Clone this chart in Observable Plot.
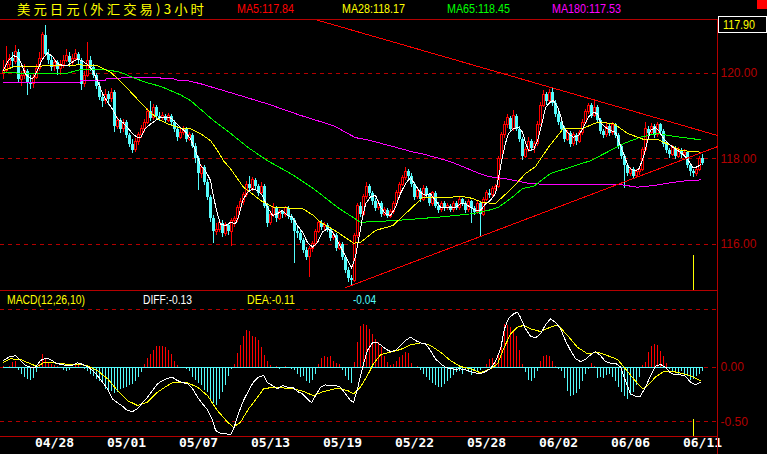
<!DOCTYPE html>
<html><head><meta charset="utf-8">
<script src="https://cdn.jsdelivr.net/npm/d3@7"></script>
<script src="https://cdn.jsdelivr.net/npm/@observablehq/plot@0.6"></script>
<style>
html,body{margin:0;padding:0;background:#000;}
#chart{position:relative;width:767px;height:454px;background:#000;overflow:hidden;}
#chart svg{position:absolute;left:0;shape-rendering:crispEdges;}
.lbl{position:absolute;white-space:nowrap;font-family:"Liberation Sans",Arial,sans-serif;font-size:13px;line-height:13px;transform-origin:0 50%;}
</style></head><body><div id="chart"></div>
<script>
// ---------- data ----------
const opens = [
119.98,120.05,120.20,120.35,120.28,120.50,119.85,119.95,120.05,119.80,
119.75,119.90,120.10,120.35,120.90,120.45,120.30,120.15,120.25,120.10,
120.20,120.30,120.40,120.25,120.35,120.45,120.30,119.75,119.95,120.30,
120.15,119.95,119.70,119.45,119.35,119.50,119.40,119.55,118.75,118.90,
118.70,118.85,118.55,118.35,118.20,118.40,118.55,118.70,118.85,119.10,
118.95,119.20,119.00,118.95,119.00,118.90,119.00,118.85,118.70,118.50,
118.60,118.70,118.45,118.55,118.30,118.00,117.65,117.80,117.45,117.10,
116.60,116.30,116.35,116.50,116.25,116.45,116.30,116.55,116.60,116.85,
117.00,117.15,117.40,117.30,117.50,117.35,117.20,117.35,116.90,116.50,
116.70,116.85,116.60,116.75,116.70,116.85,116.65,116.55,116.30,116.25,
116.10,115.85,115.70,115.90,116.00,116.30,116.50,116.40,116.45,116.35,
116.15,116.20,115.90,116.00,115.70,115.40,115.20,115.15,116.20,116.90,
116.70,117.10,117.35,117.20,117.00,116.85,116.95,116.70,116.80,116.65,
116.75,116.95,117.20,117.40,117.55,117.70,117.60,117.40,117.10,117.25,
117.05,117.30,117.15,116.95,117.20,116.90,116.80,116.95,116.85,116.90,
116.80,116.95,116.85,117.05,116.95,116.80,117.00,116.85,116.75,116.95,
116.70,117.05,117.20,117.15,117.30,117.35,118.00,118.55,118.80,118.95,
118.70,119.00,118.70,118.45,118.05,118.20,118.40,118.25,118.35,118.80,
119.25,119.50,119.35,119.55,119.30,119.05,118.85,118.70,118.45,118.60,
118.35,118.55,118.40,118.60,118.85,119.10,119.25,119.00,119.20,118.90,
118.65,118.55,118.75,118.60,118.80,118.55,118.30,118.05,117.85,117.65,
117.75,117.60,117.70,117.75,118.20,118.70,118.60,118.75,118.55,118.80,
118.65,118.35,118.20,118.10,118.25,118.05,118.20,118.10,118.15,117.85,
117.70,117.65,117.75,118.00];
const highs = [
120.30,120.62,120.45,120.50,120.65,120.55,120.05,120.20,120.10,119.95,
120.00,120.20,120.50,120.97,121.12,120.55,120.40,120.35,120.30,120.30,
120.42,120.55,120.48,120.45,120.55,120.50,120.35,120.05,120.73,120.40,
120.22,120.00,119.78,119.55,119.62,119.58,119.65,119.60,118.97,118.95,
118.92,118.90,118.60,118.45,118.48,118.62,118.78,118.92,119.18,119.34,
119.28,119.25,119.08,119.08,119.05,119.06,119.04,118.90,118.75,118.68,
118.76,118.74,118.62,118.60,118.36,118.05,117.85,117.85,117.52,117.15,
116.68,116.48,116.58,116.56,116.52,116.50,116.60,116.66,116.92,117.08,
117.22,117.48,117.60,117.56,117.55,117.40,117.45,117.40,116.96,116.78,
116.96,116.90,116.82,116.80,116.90,116.88,116.70,116.60,116.40,116.32,
116.15,115.92,115.96,116.08,116.36,116.56,116.55,116.52,116.50,116.40,
116.28,116.25,116.06,116.04,115.75,115.46,115.28,116.25,116.96,116.98,
117.18,117.45,117.40,117.25,117.08,117.02,117.00,116.86,116.84,116.82,
117.00,117.26,117.46,117.62,117.80,117.76,117.65,117.45,117.32,117.30,
117.38,117.35,117.20,117.25,117.24,116.98,117.00,117.00,116.96,116.94,
117.00,117.00,117.10,117.08,117.00,117.06,117.04,116.90,117.00,117.00,
117.10,117.26,117.28,117.36,117.40,118.05,118.62,118.88,119.05,119.00,
119.13,119.05,118.75,118.50,118.28,118.50,118.45,118.42,118.88,119.32,
119.60,119.56,119.62,119.65,119.36,119.10,118.90,118.75,118.66,118.64,
118.62,118.60,118.66,118.92,119.16,119.30,119.30,119.39,119.25,118.95,
118.70,118.82,118.80,118.86,118.84,118.60,118.35,118.10,117.90,117.80,
117.80,117.76,117.82,118.26,118.85,118.75,118.82,118.80,118.85,118.84,
118.70,118.40,118.25,118.32,118.30,118.26,118.24,118.22,118.18,117.90,
117.76,117.82,118.06,118.10];
const lows = [
119.85,120.00,120.10,120.15,120.22,119.80,119.70,119.85,119.49,119.62,
119.65,119.85,120.05,120.30,120.40,120.20,120.05,120.05,119.95,119.95,
120.12,120.25,120.15,120.18,120.28,120.20,119.60,119.68,119.90,120.05,
119.88,119.62,119.38,119.20,119.28,119.25,119.32,118.62,118.68,118.60,
118.62,118.48,118.28,118.12,118.15,118.32,118.48,118.62,118.80,118.88,
118.90,118.92,118.88,118.90,118.85,118.85,118.78,118.62,118.42,118.45,
118.55,118.38,118.40,118.25,117.90,117.26,117.55,117.38,117.02,116.52,
116.02,116.20,116.28,116.16,116.18,116.22,115.96,116.40,116.52,116.80,
116.92,117.10,117.22,117.25,117.28,117.12,117.15,116.85,116.40,116.44,
116.62,116.52,116.55,116.60,116.64,116.58,116.48,115.56,116.15,116.02,
115.78,115.62,115.23,115.82,115.95,116.25,116.32,116.30,116.28,116.08,
116.10,115.84,115.85,115.62,115.32,115.12,115.04,115.10,116.15,116.62,
116.65,117.05,117.12,116.92,116.78,116.80,116.64,116.66,116.60,116.60,
116.70,116.90,117.15,117.35,117.50,117.52,117.34,117.02,117.05,116.98,
117.00,117.08,116.88,116.90,116.85,116.72,116.75,116.78,116.80,116.74,
116.76,116.80,116.80,116.88,116.72,116.76,116.48,116.68,116.70,116.17,
116.65,117.00,117.08,117.10,117.20,117.30,117.95,118.48,118.72,118.62,
118.65,118.65,118.38,117.96,118.00,118.15,118.18,118.14,118.30,118.75,
119.20,119.25,119.30,119.22,118.98,118.78,118.62,118.38,118.40,118.28,
118.30,118.32,118.36,118.55,118.80,119.05,118.95,118.96,118.85,118.58,
118.48,118.50,118.52,118.55,118.48,118.22,117.98,117.30,117.58,117.60,
117.55,117.55,117.62,117.70,118.15,118.52,118.55,118.48,118.50,118.58,
118.28,118.12,118.02,118.05,117.98,118.00,118.02,118.04,117.78,117.60,
117.56,117.60,117.70,117.84];
const closes = [
120.05,120.20,120.35,120.28,120.50,119.85,119.95,120.05,119.80,119.75,
119.90,120.10,120.35,120.90,120.45,120.30,120.15,120.25,120.10,120.20,
120.30,120.40,120.25,120.35,120.45,120.30,119.75,119.95,120.30,120.15,
119.95,119.70,119.45,119.35,119.50,119.40,119.55,118.75,118.90,118.70,
118.85,118.55,118.35,118.20,118.40,118.55,118.70,118.85,119.10,118.95,
119.20,119.00,118.95,119.00,118.90,119.00,118.85,118.70,118.50,118.60,
118.70,118.45,118.55,118.30,118.00,117.65,117.80,117.45,117.10,116.60,
116.30,116.35,116.50,116.25,116.45,116.30,116.55,116.60,116.85,117.00,
117.15,117.40,117.30,117.50,117.35,117.20,117.35,116.90,116.50,116.70,
116.85,116.60,116.75,116.70,116.85,116.65,116.55,116.30,116.25,116.10,
115.85,115.70,115.90,116.00,116.30,116.50,116.40,116.45,116.35,116.15,
116.20,115.90,116.00,115.70,115.40,115.20,115.15,116.20,116.90,116.70,
117.10,117.35,117.20,117.00,116.85,116.95,116.70,116.80,116.65,116.75,
116.95,117.20,117.40,117.55,117.70,117.60,117.40,117.10,117.25,117.05,
117.30,117.15,116.95,117.20,116.90,116.80,116.95,116.85,116.90,116.80,
116.95,116.85,117.05,116.95,116.80,117.00,116.85,116.75,116.95,116.70,
117.05,117.20,117.15,117.30,117.35,118.00,118.55,118.80,118.95,118.70,
119.00,118.70,118.45,118.05,118.20,118.40,118.25,118.35,118.80,119.25,
119.50,119.35,119.55,119.30,119.05,118.85,118.70,118.45,118.60,118.35,
118.55,118.40,118.60,118.85,119.10,119.25,119.00,119.20,118.90,118.65,
118.55,118.75,118.60,118.80,118.55,118.30,118.05,117.85,117.65,117.75,
117.60,117.70,117.75,118.20,118.70,118.60,118.75,118.55,118.80,118.65,
118.35,118.20,118.10,118.25,118.05,118.20,118.10,118.15,117.85,117.70,
117.65,117.75,118.00,117.90];
const hist = [
0.01,-0.01,0.01,0.05,0.06,-0.03,-0.06,-0.09,-0.11,-0.12,
-0.10,-0.05,0.03,0.12,0.07,0.05,0.03,0.02,0.01,-0.01,
-0.03,-0.04,-0.03,0.00,0.02,0.02,-0.01,-0.02,-0.04,-0.06,
-0.08,-0.11,-0.13,-0.15,-0.20,-0.23,-0.22,-0.24,-0.23,-0.20,
-0.19,-0.18,-0.17,-0.16,-0.13,-0.09,-0.05,0.03,0.08,0.12,
0.16,0.19,0.19,0.19,0.18,0.16,0.12,0.06,0.02,0.00,
-0.01,-0.02,-0.04,-0.09,-0.12,-0.15,-0.17,-0.21,-0.23,-0.29,
-0.33,-0.35,-0.29,-0.23,-0.17,-0.08,-0.02,0.03,0.13,0.20,
0.29,0.34,0.33,0.29,0.28,0.25,0.18,0.11,0.06,0.02,
-0.01,0.01,-0.02,0.00,0.01,-0.01,-0.02,-0.03,-0.06,-0.09,
-0.08,-0.13,-0.15,-0.12,-0.06,0.03,0.08,0.10,0.09,0.10,
0.06,0.04,0.03,-0.03,-0.08,-0.12,-0.15,0.05,0.23,0.38,
0.40,0.39,0.35,0.30,0.26,0.23,0.18,0.10,0.05,0.02,
0.03,0.06,0.09,0.11,0.14,0.13,0.04,-0.01,0.01,-0.03,
-0.06,-0.09,-0.12,-0.15,-0.17,-0.18,-0.18,-0.16,-0.13,-0.10,
-0.07,-0.05,-0.04,-0.06,-0.03,-0.05,-0.07,-0.04,-0.05,-0.03,
-0.01,0.03,0.07,0.08,0.05,0.11,0.23,0.40,0.39,0.37,
0.34,0.29,0.16,0.03,-0.05,-0.12,-0.13,-0.10,-0.04,0.06,
0.10,0.11,0.10,0.06,0.01,-0.02,-0.04,-0.10,-0.22,-0.27,
-0.26,-0.24,-0.20,-0.13,-0.06,-0.02,0.04,0.01,-0.10,-0.09,
-0.10,-0.07,-0.06,-0.09,-0.13,-0.18,-0.23,-0.27,-0.29,-0.26,
-0.23,-0.17,-0.09,0.02,0.05,0.14,0.19,0.21,0.20,0.15,
0.10,0.04,-0.02,-0.04,-0.05,-0.07,-0.04,-0.06,-0.08,-0.12,
-0.11,-0.08,-0.06,-0.04];
// moving averages as [bar, value]
const ma5 = [[0,120.07],[1.3,120.27],[3.3,120.42],[4.7,120.38],[5.7,120.27],[7.3,119.99],[9,119.88],[10,119.9],[11.3,120.07],[13,120.34],[14.7,120.48],[16.3,120.4],[18,120.23],[19.7,120.19],[21.3,120.19],[23,120.27],[24.7,120.34],[26.3,120.29],[28,120.21],[29.7,120.07],[31.3,119.84],[33,119.53],[34.7,119.33],[36.3,119.17],[38,118.94],[39.7,118.86],[41.3,118.74],[43,118.59],[44.7,118.5],[45.7,118.5],[47.3,118.71],[49,118.82],[50.7,118.9],[52.3,118.98],[54,118.98],[55.7,118.96],[57.3,118.86],[59,118.74],[60.7,118.63],[62.3,118.47],[64,118.2],[65.7,117.85],[67.3,117.73],[69,117.5],[70,117.11],[71.3,116.72],[72.3,116.48],[74,116.44],[75.7,116.52],[77.3,116.48],[78.3,116.64],[79.7,117.03],[81.3,117.22],[83,117.3],[84.7,117.26],[86.3,117.15],[88,116.87],[89.7,116.68],[91.3,116.72],[93,116.8],[94.7,116.68],[96.3,116.64],[98,116.44],[99.7,116.29],[101.3,116.05],[103,115.94],[104.7,116.05],[106.3,116.29],[108,116.37],[109.7,116.29],[111.3,116.09],[113,115.86],[114.7,115.63],[116,115.45],[117.3,115.7],[118.3,116.09],[119.7,116.64],[120.7,116.95],[122.3,117.11],[124,117.15],[125.7,116.87],[127.3,116.72],[129,116.68],[130.7,116.87],[132.3,117.19],[134,117.42],[135.7,117.57],[137.3,117.38],[139,117.22],[140.7,117.15],[142.3,117.19],[144,117.03],[145.7,116.87],[147.3,116.87],[149,116.87],[150.7,116.87],[152.3,116.95],[154,116.95],[155.7,116.87],[157.3,116.8],[159,116.8],[160.7,116.95],[162.3,117.03],[164,117.19],[165,117.57],[166.3,118.04],[167.3,118.36],[168.3,118.59],[170,118.71],[171.7,118.74],[173,118.63],[174,118.39],[175,118.2],[176.7,118.22],[178,118.43],[179.7,118.9],[180.7,119.21],[182.3,119.33],[183.3,119.37],[184.7,119.21],[185.7,119.02],[186.7,118.74],[188.3,118.59],[190,118.51],[191.7,118.55],[193.3,118.74],[195,118.98],[196.7,119.09],[198,119.06],[199,118.86],[200.7,118.74],[202.3,118.67],[204,118.63],[205,118.43],[206.7,118.12],[208.3,117.81],[210,117.73],[211.7,117.75],[213.3,118.04],[214.7,118.43],[215.7,118.67],[217.3,118.74],[218.3,118.67],[219.7,118.51],[221.3,118.39],[223,118.28],[224.7,118.2],[226.3,118.12],[228,118.0],[229.7,117.81],[230.7,117.8],[232.3,117.86]];
const ma28 = [[0,120.07],[4,120.17],[10,120.16],[15.7,120.19],[25.7,120.2],[31.3,120.18],[35.7,120.03],[39,119.82],[43.3,119.5],[48,119.15],[51.3,118.95],[54.7,118.82],[59,118.72],[62.3,118.71],[65.7,118.59],[69,118.43],[71.3,118.2],[73.3,117.96],[75.7,117.77],[78,117.54],[80,117.34],[82.3,117.22],[85.7,117.03],[90,116.87],[93.3,116.86],[100,116.83],[103.3,116.68],[105.7,116.52],[111.3,116.29],[116.7,116.03],[119,116.05],[124,116.33],[129.7,116.44],[134,116.72],[139.7,117.1],[146.3,117.1],[153,117.12],[156.3,117.08],[159.7,116.98],[164,116.96],[169.7,117.33],[174,117.66],[177.3,117.82],[181.7,118.28],[186.7,118.72],[193.3,118.72],[198,118.86],[203.3,118.83],[208,118.6],[213.3,118.46],[218,118.46],[222.3,118.32],[225.7,118.2],[232.3,118.16]];
const ma65 = [[0,120.03],[4.7,120.01],[11.3,119.99],[21.3,120.01],[25.7,120.09],[32.3,120.1],[35.7,120.07],[39,120.03],[43.3,119.9],[48,119.78],[52.3,119.7],[55.7,119.6],[59,119.5],[62.3,119.37],[70,118.9],[75.7,118.6],[81.3,118.28],[88,117.96],[95.7,117.66],[103.3,117.31],[111.3,116.87],[119,116.52],[130.7,116.56],[145,116.64],[156.3,116.72],[161.7,116.8],[165,116.87],[169.7,117.11],[173,117.31],[176.7,117.36],[182.3,117.66],[189,117.81],[195.7,117.96],[202.3,118.2],[206.7,118.36],[212.3,118.51],[218,118.6],[223.3,118.53],[232.3,118.45]];
const ma180 = [[0,119.78],[12.9,119.78],[13.2,119.8],[25.5,119.8],[25.8,119.84],[34,119.84],[34.3,119.88],[39,119.88],[39.3,119.9],[52.3,119.9],[52.6,119.88],[56.7,119.88],[57,119.85],[61,119.84],[65.7,119.76],[76.7,119.53],[88,119.29],[99,119.02],[110,118.78],[117.3,118.5],[121.3,118.45],[128.3,118.32],[136.7,118.16],[139.7,118.12],[148,117.96],[150.7,117.89],[159,117.65],[161.7,117.59],[167.3,117.54],[175.7,117.42],[186.7,117.4],[205.7,117.4],[211.3,117.34],[216.7,117.38],[225.7,117.48],[232.3,117.51]];
// MACD lines as [bar, value]
const diffLine = [[0,0.064],[1.7,0.095],[4,0.11],[5.7,0.064],[7.3,0.018],[9,0.003],[10.7,0.003],[12.3,0.064],[14,0.086],[15.7,0.074],[17.3,0.043],[19,0.03],[21.3,0.018],[23,0.02],[24.7,0.043],[26.3,0.03],[28,0.009],[29.7,-0.028],[31.3,-0.074],[33,-0.135],[34.7,-0.196],[36.3,-0.288],[38,-0.325],[39.7,-0.356],[41.3,-0.396],[43,-0.405],[44.7,-0.38],[46.3,-0.325],[48,-0.273],[49.7,-0.212],[51.3,-0.15],[53,-0.12],[54.7,-0.099],[56.3,-0.089],[58,-0.12],[59.7,-0.141],[61.3,-0.145],[63,-0.196],[64.7,-0.273],[66.3,-0.334],[68,-0.387],[69.7,-0.488],[70.7,-0.58],[72.3,-0.605],[74,-0.61],[75.7,-0.617],[76.7,-0.565],[78.3,-0.426],[80,-0.304],[81.7,-0.212],[83.3,-0.135],[85,-0.089],[86.7,-0.074],[88,-0.141],[89.7,-0.166],[91.3,-0.196],[93,-0.166],[94.7,-0.18],[96.3,-0.18],[98,-0.221],[99.7,-0.243],[101.3,-0.288],[102.7,-0.325],[104,-0.258],[105.7,-0.181],[107.3,-0.16],[109,-0.166],[110.7,-0.166],[112.3,-0.181],[114,-0.243],[115.7,-0.304],[116.7,-0.319],[118,-0.196],[119.7,0.003],[121.3,0.157],[123,0.227],[124.7,0.227],[125.7,0.209],[127.3,0.172],[129,0.147],[130.7,0.157],[132.3,0.203],[134,0.249],[135.7,0.279],[137.3,0.249],[139,0.227],[140.7,0.218],[142.3,0.157],[144,0.08],[145.7,0.034],[147.3,0.003],[149,-0.012],[150.7,-0.015],[152.3,-0.012],[154,-0.021],[155.7,-0.037],[157.3,-0.049],[159,-0.058],[160.7,-0.037],[162.3,-0.012],[164,0.055],[165.7,0.172],[167,0.356],[168.3,0.448],[170,0.494],[171.3,0.509],[172.3,0.463],[174,0.356],[175.7,0.288],[177.3,0.273],[179,0.31],[180.7,0.393],[182.3,0.448],[184,0.417],[185.7,0.356],[187.3,0.249],[189,0.157],[190.7,0.08],[192.3,0.055],[194,0.074],[195.7,0.117],[197.3,0.147],[199,0.11],[200.7,0.055],[202.3,0.04],[204,0.04],[205.7,0.003],[207.3,-0.12],[209,-0.243],[210.7,-0.264],[212.3,-0.264],[214,-0.181],[215.7,-0.074],[217.3,0.012],[219,0.028],[220.7,0.003],[222.3,-0.049],[224,-0.067],[225.7,-0.067],[227.3,-0.08],[229,-0.135],[230.7,-0.16],[232.3,-0.135]];
const deaLine = [[0,0.049],[2.3,0.08],[5.7,0.074],[9,0.034],[11.3,0.009],[13.3,0.043],[16.7,0.043],[21.3,0.03],[24.7,0.03],[28,0.018],[31.3,-0.028],[34.7,-0.104],[38,-0.212],[41.3,-0.304],[44.7,-0.35],[48,-0.319],[51.3,-0.227],[54.7,-0.166],[56.3,-0.141],[61.3,-0.141],[64.7,-0.181],[68,-0.258],[71.3,-0.396],[74.7,-0.503],[76.7,-0.55],[79,-0.503],[81.7,-0.38],[84.7,-0.273],[86.7,-0.196],[90,-0.181],[96.7,-0.196],[100,-0.221],[103.3,-0.258],[106.7,-0.221],[111.3,-0.19],[114.7,-0.212],[116.7,-0.243],[119,-0.181],[121.3,-0.074],[123.3,0.034],[125.7,0.118],[129,0.141],[132.3,0.166],[135.7,0.209],[139,0.227],[142.3,0.203],[145.7,0.141],[149,0.064],[152.3,0.009],[155.7,-0.012],[159,-0.049],[162.3,-0.012],[164.7,0.034],[166.7,0.172],[169,0.31],[171.3,0.371],[173.3,0.387],[175.7,0.356],[179,0.331],[182.3,0.371],[184.7,0.393],[188,0.295],[191.3,0.187],[194.7,0.126],[198,0.141],[201.3,0.11],[204.7,0.074],[207.3,-0.012],[210,-0.104],[213,-0.196],[214.7,-0.166],[217.3,-0.089],[220,-0.037],[223.3,-0.037],[226.7,-0.058],[229,-0.074],[232.3,-0.12]];
// trend lines drawn on the chart, [bar, price]
const trendUpper = [[104.5,121.25],[238,118.55]];
const trendLower = [[114,114.99],[238,118.29]];
const markerBar = [230];
const markerPriceTop = 115.75;
const markerMacdTop = -0.48;
// axes / labels
const tickBars = [17,41,65,89,113,137,161,185,209,233];
const tickLabels = ["04/28","05/01","05/07","05/13","05/19","05/22","05/28","06/02","06/06","06/11"];
const priceTicks = [116,118,120];
const macdTicks = [0,-0.5];
const macdGrid = [0.53,0,-0.5];
const titleText = "美元日元(外汇交易)3小时";
const maNames = ["MA5","MA28","MA65","MA180"];
const maValues = [117.84,118.17,118.45,117.53];
const macdName = "MACD(12,26,10)";
const macdNow = {diff:-0.13, dea:-0.11, macd:-0.04};

// ---------- layout ----------
const RED="#ff0000", CYAN="#54fcfc", DRED="#b40000", YEL="#ffff00", GRN="#00ff00", MAG="#ff00ff", WHT="#ffffff";
const xDomain = [-1, 238];
const priceDomain = [114.924, 121.263];
const macdDomain = [-0.635, 0.709];
const chart = document.getElementById("chart");
const bars = closes.map((c,i)=>({i, o:opens[i], h:highs[i], l:lows[i], c, up: c>=opens[i], m: hist[i]}));
const upBars = bars.filter(d => d.up);
const downBars = bars.filter(d => !d.up);
const pt = {x: d=>d[0], y: d=>d[1]};

const price = Plot.plot({
  width: 767, height: 290, marginTop: 19, marginRight: 50, marginBottom: 0, marginLeft: 0,
  style: {background: "transparent", overflow: "visible"},
  x: {domain: xDomain, axis: null},
  y: {domain: priceDomain, axis: null},
  color: {type: "identity"},
  marks: [
    Plot.ruleY(priceTicks, {stroke: DRED, strokeDasharray: "4,4"}),
    Plot.ruleY([priceDomain[1]], {stroke: DRED}),
    Plot.ruleX([xDomain[1]], {stroke: DRED}),
    Plot.ruleX(bars, {x: "i", y1: "l", y2: "h", stroke: d => d.up ? RED : CYAN}),
    // down candles: solid cyan bodies, 3 px wide
    Plot.rect(downBars, {x1: d => d.i - 1/3, x2: d => d.i + 2/3, y1: "o", y2: "c", fill: CYAN}),
    // up candles: hollow red bodies
    Plot.rect(upBars, {x1: d => d.i - 1/6, x2: d => d.i + 1/2, y1: "o", y2: "c", fill: "#000", stroke: RED, strokeWidth: 1}),
    Plot.line(ma180, {...pt, stroke: MAG, strokeWidth: 1}),
    Plot.line(ma65, {...pt, stroke: GRN, strokeWidth: 1}),
    Plot.line(ma28, {...pt, stroke: YEL, strokeWidth: 1}),
    Plot.line(ma5, {...pt, stroke: WHT, strokeWidth: 1}),
    Plot.line(trendUpper, {...pt, stroke: RED, strokeWidth: 1}),
    Plot.line(trendLower, {...pt, stroke: RED, strokeWidth: 1}),
    Plot.ruleX(markerBar, {y1: markerPriceTop, y2: priceDomain[0], stroke: YEL}),
    Plot.text(priceTicks, {y: d => d, text: d => d.toFixed(2), frameAnchor: "right", dx: 3, textAnchor: "start",
      fill: DRED, fontSize: 12, fontFamily: "Liberation Sans, Arial, sans-serif"})
  ]
});
price.style.top = "0px";
chart.appendChild(price);

const macd = Plot.plot({
  width: 767, height: 164, marginTop: 0, marginRight: 50, marginBottom: 18, marginLeft: 0,
  style: {background: "transparent", overflow: "visible"},
  x: {domain: xDomain, axis: null},
  y: {domain: macdDomain, axis: null},
  color: {type: "identity"},
  marks: [
    Plot.ruleY(macdGrid, {stroke: DRED, strokeDasharray: "4,4"}),
    Plot.ruleY([0], {x1: bars[0].i, x2: bars[bars.length-1].i, stroke: CYAN}),
    Plot.ruleY([macdDomain[1]], {stroke: DRED}),
    Plot.ruleY([macdDomain[0]], {stroke: DRED}),
    Plot.ruleX([xDomain[1]], {stroke: DRED}),
    Plot.ruleX(bars, {x: "i", y1: 0, y2: "m", stroke: d => d.m >= 0 ? RED : CYAN}),
    Plot.line(deaLine, {...pt, stroke: YEL, strokeWidth: 1}),
    Plot.line(diffLine, {...pt, stroke: WHT, strokeWidth: 1}),
    Plot.ruleX(markerBar, {y1: markerMacdTop, y2: macdDomain[0], stroke: YEL}),
    Plot.text(macdTicks, {y: d => d, text: d => d.toFixed(2), frameAnchor: "right", dx: 3, textAnchor: "start",
      fill: DRED, fontSize: 12, fontFamily: "Liberation Sans, Arial, sans-serif"}),
    Plot.text(tickBars, {x: d => d, text: (d, i) => tickLabels[i], frameAnchor: "bottom", dy: 10,
      fill: WHT, fontSize: 13, fontWeight: "bold", fontFamily: "DejaVu Sans Mono, monospace"})
  ]
});
macd.style.top = "290px";
chart.appendChild(macd);

// ---------- header / legend text ----------
function label(text, color, left, top, width, font) {
  const s = document.createElement("span");
  s.className = "lbl";
  s.textContent = text;
  s.style.color = color;
  s.style.left = left + "px";
  s.style.top = top + "px";
  if (font) s.style.fontFamily = font;
  chart.appendChild(s);
  const w = s.getBoundingClientRect().width;
  if (width && w) s.style.transform = `scaleX(${width / w})`;
  return s;
}
const t = label(titleText, YEL, 17, 2, 190, '"Noto Sans CJK SC", sans-serif');
t.style.letterSpacing = "3px";
t.style.transform = "none";
t.style.transform = `scaleX(${190 / t.getBoundingClientRect().width})`;
const maColors = [RED, YEL, GRN, MAG];
const maLeft = [237, 342, 447, 552];
const maWidth = [57, 63, 63, 69];
maNames.forEach((n, k) => label(`${n}:${maValues[k].toFixed(2)}`, maColors[k], maLeft[k], 2, maWidth[k]));
label(macdName, YEL, 7, 293, 78);
label(`DIFF:${macdNow.diff.toFixed(2)}`, WHT, 143, 293, 49);
label(`DEA:${macdNow.dea.toFixed(2)}`, YEL, 247, 293, 48);
label(macdNow.macd.toFixed(2), CYAN, 353, 293, 23);

// current price tag, corner mark, border extension
const tag = document.createElement("div");
tag.style.cssText = "position:absolute;left:718px;top:16px;width:47px;height:15px;border:1px solid #fff;";
chart.appendChild(tag);
label(closes[closes.length - 1].toFixed(2), YEL, 723, 18, 32);
const sq = document.createElement("div");
sq.style.cssText = "position:absolute;left:757px;top:0px;width:10px;height:9px;background:#ff0000;";
chart.appendChild(sq);
const ext = document.createElement("div");
ext.style.cssText = `position:absolute;left:717px;top:436px;width:1px;height:18px;background:${DRED};`;
chart.appendChild(ext);
</script></body></html>
